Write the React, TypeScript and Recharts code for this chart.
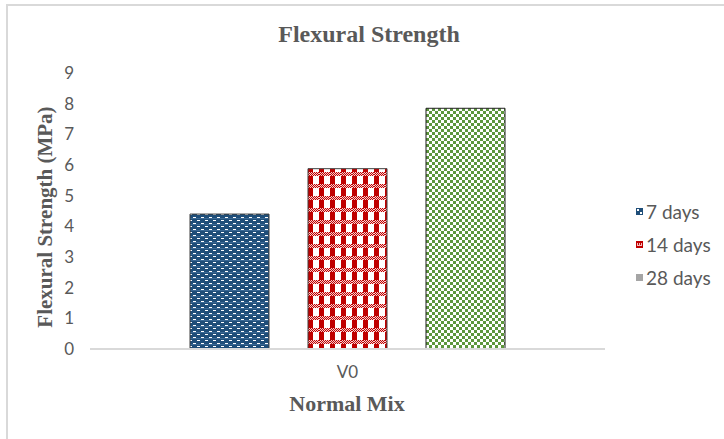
import { Bar, BarChart, XAxis, YAxis } from "recharts";

const categories = ["V0"];
const days7 = [4.4];
const days14 = [5.88];
const days28 = [7.85];
const seriesNames = ["7 days", "14 days", "28 days"];
const yTicks = [0, 1, 2, 3, 4, 5, 6, 7, 8, 9];

const rows = categories.map((name, i) => ({
  name,
  d7: days7[i],
  d14: days14[i],
  d28: days28[i],
}));

const TEXT = "#595959";
const SANS = "Lato, 'Open Sans', sans-serif";
const SERIF = "'Liberation Serif', 'Times New Roman', serif";

// fill patterns that mimic the office-style hatch fills
function Patterns() {
  const redChecks: JSX.Element[] = [];
  for (let x = 0; x < 11; x += 2) {
    redChecks.push(<rect key={`a${x}`} x={x} y={4} width={1} height={1} fill="#c00000" />);
    redChecks.push(<rect key={`b${x}`} x={x + 1} y={5} width={1} height={1} fill="#c00000" />);
    redChecks.push(<rect key={`c${x}`} x={x} y={6} width={1} height={1} fill="#c00000" />);
    redChecks.push(<rect key={`d${x}`} x={x + 1} y={7} width={1} height={1} fill="#c00000" />);
  }
  return (
    <defs>
      <pattern id="pat7" width={8} height={6} patternUnits="userSpaceOnUse">
        <rect width={8} height={6} fill="#1f4e79" />
        <rect x={1} y={1} width={3} height={1} fill="#ffffff" />
        <rect x={5} y={4} width={3} height={1} fill="#ffffff" />
        <rect x={0} y={2} width={8} height={1} fill="#4d7aa6" opacity={0.6} />
      </pattern>
      <pattern id="pat14" width={11} height={12} patternUnits="userSpaceOnUse">
        <rect width={11} height={12} fill="#ffffff" />
        <rect x={0} y={0} width={5} height={12} fill="#c00000" />
        <rect x={0} y={4} width={11} height={4} fill="#f6d0d0" />
        {redChecks}
      </pattern>
      <pattern id="pat28" width={6} height={6} patternUnits="userSpaceOnUse">
        <rect width={6} height={6} fill="#ffffff" />
        <rect x={0} y={0} width={3} height={3} fill="#5c963c" />
        <rect x={3} y={3} width={3} height={3} fill="#5c963c" />
      </pattern>
    </defs>
  );
}

function Swatch({ index }: { index: number }) {
  if (index === 0) {
    return (
      <svg width={7} height={7} style={{ marginRight: 3 }}>
        <rect width={7} height={7} fill="#1f4e79" />
        <rect x={1} y={1} width={2} height={2} fill="#fff" />
        <rect x={4} y={4} width={2} height={2} fill="#fff" />
      </svg>
    );
  }
  if (index === 1) {
    return (
      <svg width={7} height={7} style={{ marginRight: 3 }}>
        <rect width={7} height={7} fill="#c00000" />
        <rect x={1} y={2} width={5} height={3} fill="#f4c0c0" />
        <rect x={2} y={2} width={1} height={2} fill="#c00000" />
        <rect x={4} y={2} width={1} height={2} fill="#c00000" />
      </svg>
    );
  }
  return (
    <svg width={7} height={7} style={{ marginRight: 3 }}>
      <rect width={7} height={7} fill="#a5a5a5" />
    </svg>
  );
}

function SeriesLegend() {
  return (
    <div style={{ fontFamily: SANS, fontSize: 19, color: TEXT }}>
      {seriesNames.map((name, i) => (
        <div key={name} style={{ display: "flex", alignItems: "center", height: 33 }}>
          <Swatch index={i} />
          <span>{name}</span>
        </div>
      ))}
    </div>
  );
}

const titleStyle = {
  position: "absolute" as const,
  whiteSpace: "nowrap" as const,
  fontFamily: SERIF,
  fontWeight: 700,
  color: TEXT,
  lineHeight: 1,
};

export default function App() {
  return (
    <div
      style={{
        position: "fixed",
        left: 0,
        top: 0,
        width: 724,
        height: 439,
        background: "#ffffff",
        overflow: "hidden",
      }}
    >
      {/* chart frame: only the top and left edges fall inside the page */}
      <div
        style={{
          position: "absolute",
          left: 6,
          top: 4,
          width: 800,
          height: 500,
          border: "2px solid #d9d9d9",
        }}
      />
      <div style={{ position: "absolute", left: 0, top: 0 }}>
        <BarChart
          width={724}
          height={439}
          data={rows}
          margin={{ top: 73, right: 119, bottom: 60, left: 30 }}
          barSize={79}
          barGap={39}
        >
          <Patterns />
          <XAxis
            dataKey="name"
            height={30}
            axisLine={{ stroke: "#d9d9d9", strokeWidth: 2 }}
            tickLine={false}
            tickSize={0}
            tickMargin={17}
            tick={{ fill: TEXT, fontSize: 17, fontFamily: SANS }}
          />
          <YAxis
            width={60}
            domain={[0, 9]}
            ticks={yTicks}
            interval={0}
            axisLine={false}
            tickLine={false}
            tickSize={0}
            tickMargin={16}
            tick={{ fill: TEXT, fontSize: 17, fontFamily: SANS }}
          />
          <Bar dataKey="d7" name={seriesNames[0]} fill="url(#pat7)" stroke="#3f3f3f" strokeWidth={1} isAnimationActive={false} />
          <Bar dataKey="d14" name={seriesNames[1]} fill="url(#pat14)" stroke="#3f3f3f" strokeWidth={1} isAnimationActive={false} />
          <Bar dataKey="d28" name={seriesNames[2]} fill="url(#pat28)" stroke="#1e1e1e" strokeWidth={1} isAnimationActive={false} />
        </BarChart>
      </div>
      <div style={{ position: "absolute", left: 636, top: 195 }}>
        <SeriesLegend />
      </div>
      <div style={{ ...titleStyle, left: 369, top: 22, fontSize: 24, transform: "translateX(-50%)" }}>
        Flexural Strength
      </div>
      <div
        style={{
          ...titleStyle,
          left: 45,
          top: 217,
          fontSize: 21,
          transform: "translate(-50%, -50%) rotate(-90deg)",
        }}
      >
        Flexural Strength (MPa)
      </div>
      <div style={{ ...titleStyle, left: 347, top: 393, fontSize: 22, transform: "translateX(-50%)" }}>
        Normal Mix
      </div>
    </div>
  );
}
